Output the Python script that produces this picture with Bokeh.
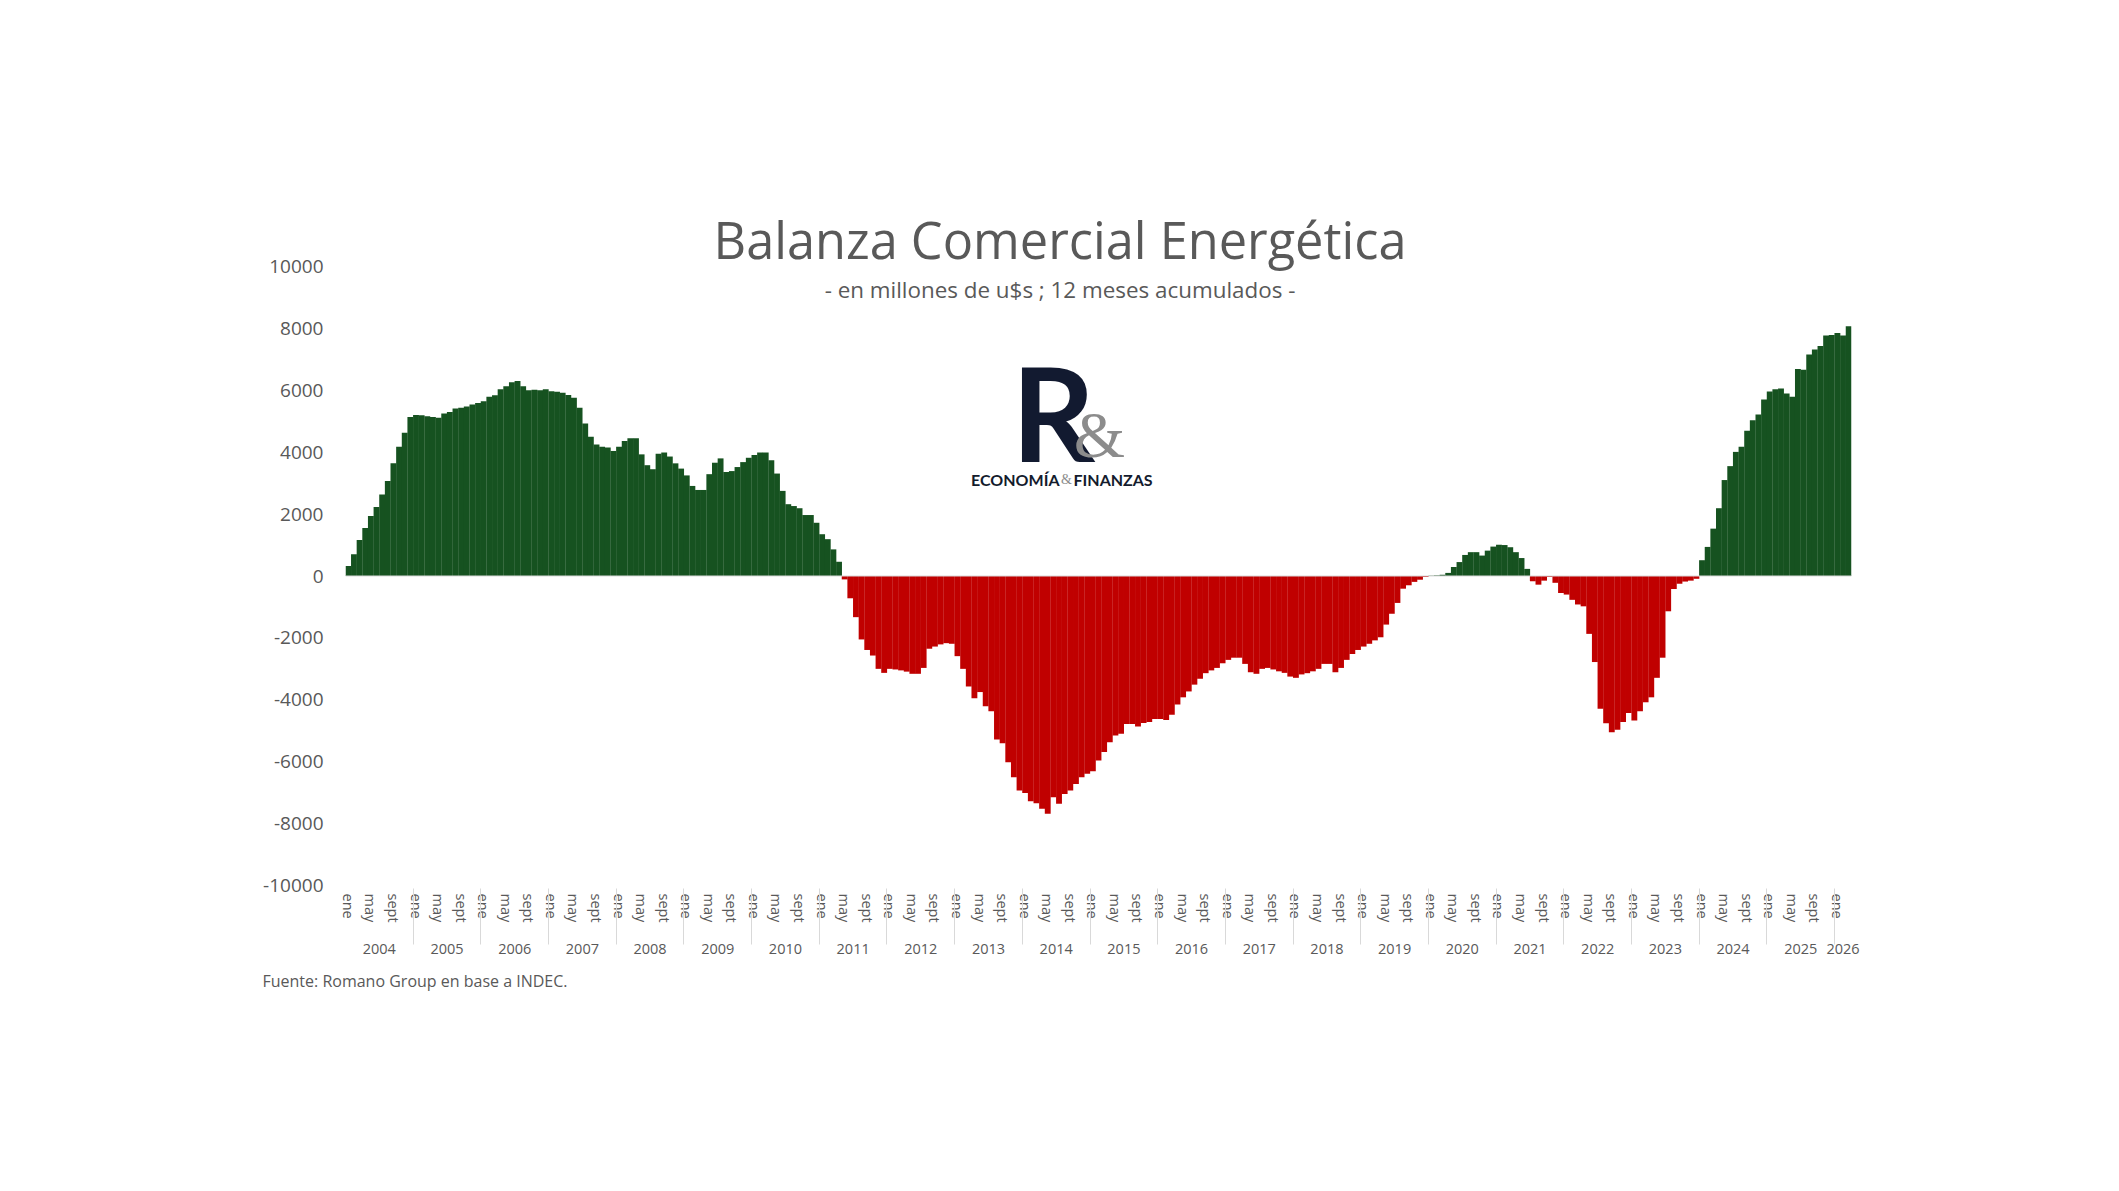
from bokeh.plotting import figure
from bokeh.models import (FactorRange, Range1d, ColumnDataSource, FixedTicker, Span,
                          Label, Title, AllLabels)
from bokeh.embed import file_html
from bokeh.resources import INLINE

# ---------------- data ----------------
years = ["2004", "2005", "2006", "2007", "2008", "2009", "2010", "2011", "2012", "2013",
         "2014", "2015", "2016", "2017", "2018", "2019", "2020", "2021", "2022", "2023",
         "2024", "2025", "2026"]
month_names = ["ene", "feb", "mar", "abr", "may", "jun", "jul", "ago", "sept", "oct", "nov", "dic"]
shown_months = ["ene", "may", "sept"]

v2004 = [320, 700, 1160, 1550, 1940, 2230, 2630, 3070, 3640, 4180, 4630, 5140]
v2005 = [5200, 5190, 5160, 5140, 5110, 5250, 5300, 5410, 5440, 5480, 5540, 5590]
v2006 = [5650, 5790, 5840, 6030, 6130, 6260, 6300, 6130, 6000, 6020, 6000, 6030]
v2007 = [5970, 5950, 5920, 5850, 5760, 5440, 4930, 4500, 4250, 4180, 4150, 4040]
v2008 = [4180, 4360, 4450, 4450, 3930, 3580, 3450, 3950, 3990, 3860, 3640, 3470]
v2009 = [3250, 2910, 2780, 2780, 3290, 3660, 3800, 3360, 3390, 3520, 3680, 3820]
v2010 = [3910, 3990, 3990, 3740, 3310, 2750, 2320, 2260, 2190, 1970, 1970, 1720]
v2011 = [1350, 1190, 860, 460, -110, -720, -1330, -2050, -2390, -2570, -3000, -3130]
v2012 = [-3000, -3020, -3050, -3090, -3160, -3160, -2970, -2350, -2280, -2210, -2170, -2190]
v2013 = [-2590, -3000, -3570, -3950, -3750, -4210, -4370, -5280, -5400, -6020, -6500, -6930]
v2014 = [-7010, -7280, -7340, -7520, -7680, -7150, -7360, -7040, -6930, -6720, -6500, -6390]
v2015 = [-6310, -5960, -5690, -5370, -5150, -5100, -4780, -4780, -4860, -4750, -4720, -4620]
v2016 = [-4620, -4650, -4480, -4150, -3920, -3730, -3510, -3320, -3140, -3050, -2970, -2820]
v2017 = [-2710, -2640, -2640, -2840, -3110, -3160, -3000, -2970, -3020, -3080, -3130, -3250]
v2018 = [-3290, -3180, -3140, -3080, -3000, -2840, -2840, -3110, -2970, -2710, -2520, -2390]
v2019 = [-2280, -2190, -2080, -1980, -1570, -1220, -870, -410, -300, -190, -120, -30]
v2020 = [10, 20, 40, 100, 290, 450, 680, 770, 770, 660, 820, 950]
v2021 = [1010, 1000, 930, 770, 580, 230, -170, -280, -150, -30, -220, -550]
v2022 = [-600, -770, -920, -980, -1870, -2780, -4290, -4760, -5050, -4970, -4720, -4430]
v2023 = [-4670, -4370, -4080, -3920, -3290, -2640, -1140, -420, -250, -180, -150, -90]
v2024 = [510, 940, 1530, 2190, 3100, 3550, 4010, 4180, 4690, 5030, 5220, 5700]
v2025 = [5960, 6030, 6060, 5900, 5790, 6690, 6660, 7160, 7320, 7430, 7770, 7790]
v2026 = [7850, 7770, 8070]

yearly_values = [v2004, v2005, v2006, v2007, v2008, v2009, v2010, v2011, v2012, v2013,
                 v2014, v2015, v2016, v2017, v2018, v2019, v2020, v2021, v2022, v2023,
                 v2024, v2025, v2026]

y_ticks = [-10000, -8000, -6000, -4000, -2000, 0, 2000, 4000, 6000, 8000, 10000]
y_tick_labels = ["-10000", "-8000", "-6000", "-4000", "-2000", "0",
                 "2000", "4000", "6000", "8000", "10000"]

title_text = "Balanza Comercial Energética"
subtitle_text = "- en millones de u$s ; 12 meses acumulados -"
source_text = "Fuente: Romano Group en base a INDEC."

POS_COLOR = "#165220"
NEG_COLOR = "#c00000"
TEXT_COLOR = "#595959"

# ---------------- build factors ----------------
factors, values, colors = [], [], []
for yr, vals in zip(years, yearly_values):
    for k, v in enumerate(vals):
        m = month_names[k]
        lab = m if m in shown_months else " " * (k + 1)
        factors.append((yr, lab))
        values.append(v)
        colors.append(POS_COLOR if v >= 0 else NEG_COLOR)

# ---------------- layout (page pixels) ----------------
W, H = 2115, 1185
AX_L, AX_R = 345, 1851          # category axis extent
AX_TOP, AX_BOT = 266, 885       # value axis: 10000 .. -10000
FRAME_TOP = 140                 # frame extends above the value axis (room for titles)
Y_MIN, Y_MAX = -10000, 10000
N = len(factors)

def px_to_x(px):
    return (px - AX_L) * N / (AX_R - AX_L)

def px_to_y(py):
    return Y_MAX - (py - AX_TOP) * (Y_MAX - Y_MIN) / (AX_BOT - AX_TOP)

p = figure(width=W, height=H,
           x_range=FactorRange(*factors, factor_padding=0, group_padding=0,
                               subgroup_padding=0, range_padding=0),
           y_range=Range1d(Y_MIN, px_to_y(FRAME_TOP)),
           output_backend="svg", toolbar_location=None,
           min_border_left=AX_L, min_border_top=FRAME_TOP,
           min_border_right=W - AX_R, min_border_bottom=H - AX_BOT)
p.outline_line_color = None
p.background_fill_color = "white"
p.border_fill_color = "white"
p.xgrid.grid_line_color = None
p.ygrid.grid_line_color = None

src = ColumnDataSource(dict(x=factors, v=values, color=colors))
p.vbar(x="x", top="v", bottom=0, width=1.04, source=src,
       fill_color="color", line_color=None)

p.add_layout(Span(location=0, dimension="width", line_color="#d9d9d9", line_width=1))

# y axis
ya = p.yaxis[0]
ya.ticker = FixedTicker(ticks=y_ticks)
ya.major_label_overrides = {t: s for t, s in zip(y_ticks, y_tick_labels)}
ya.axis_line_color = None
ya.major_tick_line_color = None
ya.minor_tick_line_color = None
ya.major_label_text_font = "Open Sans"
ya.major_label_text_font_size = "19px"
ya.major_label_text_color = TEXT_COLOR
ya.major_label_standoff = 16

# x axis (two level categories)
xa = p.xaxis[0]
xa.axis_line_color = None
xa.major_tick_line_color = None
xa.minor_tick_line_color = None
xa.major_label_policy = AllLabels()
xa.major_label_orientation = "vertical"
xa.major_label_text_font = "Open Sans"
xa.major_label_text_font_size = "14.5px"
xa.major_label_text_color = TEXT_COLOR
xa.major_label_standoff = 2
xa.group_text_font = "Open Sans"
xa.group_text_font_size = "14.5px"
xa.group_text_font_style = "normal"
xa.group_text_color = TEXT_COLOR
xa.separator_line_color = "#d9d9d9"
xa.separator_line_width = 1

# source note below the axis
p.add_layout(Title(text=source_text, align="left", offset=262 - AX_L, standoff=22,
                   text_font="Open Sans", text_font_size="16px",
                   text_font_style="normal", text_color=TEXT_COLOR), "below")

def add_label(text, px, py, size, color, align="center", baseline="middle",
              font="Open Sans", style="normal"):
    p.add_layout(Label(x=px_to_x(px), y=px_to_y(py), text=text, text_font=font,
                       text_font_size=f"{size}px", text_color=color, text_align=align,
                       text_baseline=baseline, text_font_style=style))

add_label(title_text, 1059.5, 239, 50.5, TEXT_COLOR)
add_label(subtitle_text, 1059.5, 289, 22.4, TEXT_COLOR)

# logo
add_label("R", 1011, 411, 130, "#121a30", align="left", font="Lato", style="bold")
add_label("&", 1099, 434, 66, "#8c8c8c", align="center", font="Liberation Serif")
add_label("ECONOMÍA", 1059, 479, 16, "#141b2d", align="right", font="Lato", style="bold")
add_label("&", 1066, 479, 14, "#8c8c8c", align="center", font="Liberation Serif")
add_label("FINANZAS", 1073, 479, 16, "#141b2d", align="left", font="Lato", style="bold")

open("out.html", "w").write(file_html(p, INLINE))
